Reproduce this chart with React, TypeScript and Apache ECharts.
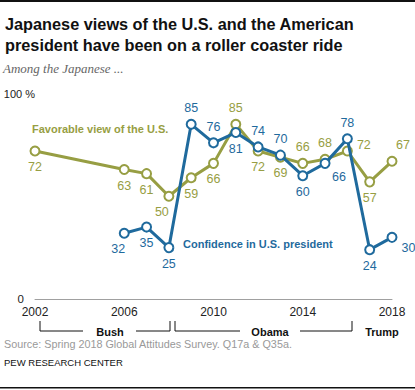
import React, { useEffect, useRef } from "react";
import * as echarts from "echarts";

const favYears = [2002, 2006, 2007, 2008, 2009, 2010, 2011, 2012, 2013, 2014, 2015, 2016, 2017, 2018];
const favorable = [72, 63, 61, 50, 59, 66, 85, 72, 69, 66, 68, 72, 57, 67];
const confYears = [2006, 2007, 2008, 2009, 2010, 2011, 2012, 2013, 2014, 2015, 2016, 2017, 2018];
const confidence = [32, 35, 25, 85, 76, 81, 74, 70, 60, 66, 78, 24, 30];
const yearTicks = [2002, 2006, 2010, 2014, 2018];

const GREEN = "#979E43";
const BLUE = "#1F6A9D";
const FONT = "'Liberation Sans', Arial, sans-serif";

// label placement per year (annotation layout, not data)
const favLabel: Record<number, any> = {
  2008: { position: "bottom", offset: [-7, 0] },
  2011: { position: "top" },
  2014: { position: "top" },
  2015: { position: "top" },
  2016: { position: "right", offset: [0, -6] },
  2018: { position: "top", offset: [11, 0] },
};
const confLabel: Record<number, any> = {
  2006: { position: "bottom", offset: [-6, 0] },
  2009: { position: "top" },
  2010: { position: "top" },
  2012: { position: "top" },
  2013: { position: "top" },
  2015: { position: "bottom", offset: [14, -2] },
  2016: { position: "top" },
  2018: { position: "right", offset: [0, 11] },
};

function buildData(years: number[], vals: number[], labels: Record<number, any>) {
  return years.map((y, i) => ({
    value: [y, vals[i]],
    label: labels[y] || { position: "bottom" },
  }));
}

export default function App() {
  const ref = useRef<HTMLDivElement>(null);
  useEffect(() => {
    if (!ref.current) return;
    const chart = echarts.init(ref.current, undefined, { renderer: "svg" });
    const seriesCommon = {
      type: "line",
      symbol: "circle",
      symbolSize: 9,
      lineStyle: { width: 3 },
      label: {
        show: true,
        fontSize: 12.5,
        fontFamily: FONT,
        distance: 4,
        formatter: (p: any) => String(p.value[1]),
      },
    };
    chart.setOption({
      animation: false,
      grid: { left: 35, right: 23, top: 93.5, bottom: 91 },
      xAxis: {
        type: "value",
        min: 2002,
        max: 2018,
        interval: 4,
        axisLine: { show: true, lineStyle: { color: "#A0A0A0", width: 1 } },
        axisTick: { show: false },
        splitLine: { show: false },
        axisLabel: {
          color: "#222",
          fontSize: 12,
          fontFamily: FONT,
          margin: 7,
          formatter: (v: number) => (yearTicks.includes(v) ? String(v) : ""),
        },
      },
      yAxis: {
        type: "value",
        min: 0,
        max: 100,
        interval: 100,
        axisLine: { show: false },
        axisTick: { show: false },
        splitLine: { show: false },
        axisLabel: {
          margin: 0,
          fontSize: 11,
          fontFamily: FONT,
          color: "#222",
          formatter: (v: number) => (v === 100 ? "{a|100 %}" : "{b|0}"),
          rich: {
            a: { fontSize: 11, fontFamily: FONT, color: "#222" },
            b: { fontSize: 11.5, fontFamily: FONT, color: "#222", padding: [0, 11, 0, 0] },
          },
        },
      },
      series: [
        {
          ...seriesCommon,
          name: "Favorable view of the U.S.",
          color: GREEN,
          itemStyle: { color: "#fff", borderColor: GREEN, borderWidth: 2 },
          lineStyle: { width: 3, color: GREEN },
          label: { ...seriesCommon.label, color: GREEN },
          data: buildData(favYears, favorable, favLabel),
          z: 2,
        },
        {
          ...seriesCommon,
          name: "Confidence in U.S. president",
          color: BLUE,
          itemStyle: { color: "#fff", borderColor: BLUE, borderWidth: 2 },
          lineStyle: { width: 3, color: BLUE },
          label: { ...seriesCommon.label, color: BLUE },
          data: buildData(confYears, confidence, confLabel),
          z: 3,
        },
      ],
      graphic: [
        { type: "rect", shape: { x: 0, y: 0, width: 415, height: 2 }, style: { fill: "#111" } },
        {
          type: "text", left: 5, top: 16,
          style: { text: "Japanese views of the U.S. and the American", font: `bold 16.3px ${FONT}`, fill: "#111" },
        },
        {
          type: "text", left: 5, top: 37,
          style: { text: "president have been on a roller coaster ride", font: `bold 16.3px ${FONT}`, fill: "#111" },
        },
        {
          type: "text", left: 3, top: 62,
          style: { text: "Among the Japanese ...", font: `italic 13px 'Liberation Serif', 'DejaVu Serif', serif`, fill: "#666" },
        },
        {
          type: "text", left: 32, top: 123,
          style: { text: "Favorable view of the U.S.", font: `bold 11px ${FONT}`, fill: GREEN },
        },
        {
          type: "text", left: 183, top: 238,
          style: { text: "Confidence in U.S. president", font: `bold 11px ${FONT}`, fill: BLUE },
        },
        { type: "polyline", shape: { points: [[40, 321], [40, 331], [83, 331]] }, style: { stroke: "#111", lineWidth: 1, fill: null } },
        { type: "polyline", shape: { points: [[136, 331], [170, 331], [170, 321]] }, style: { stroke: "#111", lineWidth: 1, fill: null } },
        { type: "polyline", shape: { points: [[175, 321], [175, 331], [240, 331]] }, style: { stroke: "#111", lineWidth: 1, fill: null } },
        { type: "polyline", shape: { points: [[300, 331], [352, 331], [352, 321]] }, style: { stroke: "#111", lineWidth: 1, fill: null } },
        {
          type: "text", x: 110, y: 332,
          style: { text: "Bush", font: `bold 11px ${FONT}`, fill: "#111", align: "center", verticalAlign: "middle" },
        },
        {
          type: "text", x: 270, y: 332,
          style: { text: "Obama", font: `bold 11px ${FONT}`, fill: "#111", align: "center", verticalAlign: "middle" },
        },
        {
          type: "text", x: 382, y: 332,
          style: { text: "Trump", font: `bold 11px ${FONT}`, fill: "#111", align: "center", verticalAlign: "middle" },
        },
        {
          type: "text", x: 4, y: 344,
          style: { text: "Source: Spring 2018 Global Attitudes Survey. Q17a & Q35a.", font: `10.8px ${FONT}`, fill: "#999", verticalAlign: "middle" },
        },
        {
          type: "text", x: 4, y: 362,
          style: { text: "PEW RESEARCH CENTER", font: `9.5px ${FONT}`, fill: "#111", verticalAlign: "middle" },
        },
        { type: "rect", shape: { x: 0, y: 387, width: 415, height: 1.5 }, style: { fill: "#111" } },
      ],
    });
    return () => chart.dispose();
  }, []);
  return (
    <div
      ref={ref}
      style={{ position: "fixed", left: 0, top: 0, width: 415, height: 390, background: "#fff" }}
    />
  );
}
